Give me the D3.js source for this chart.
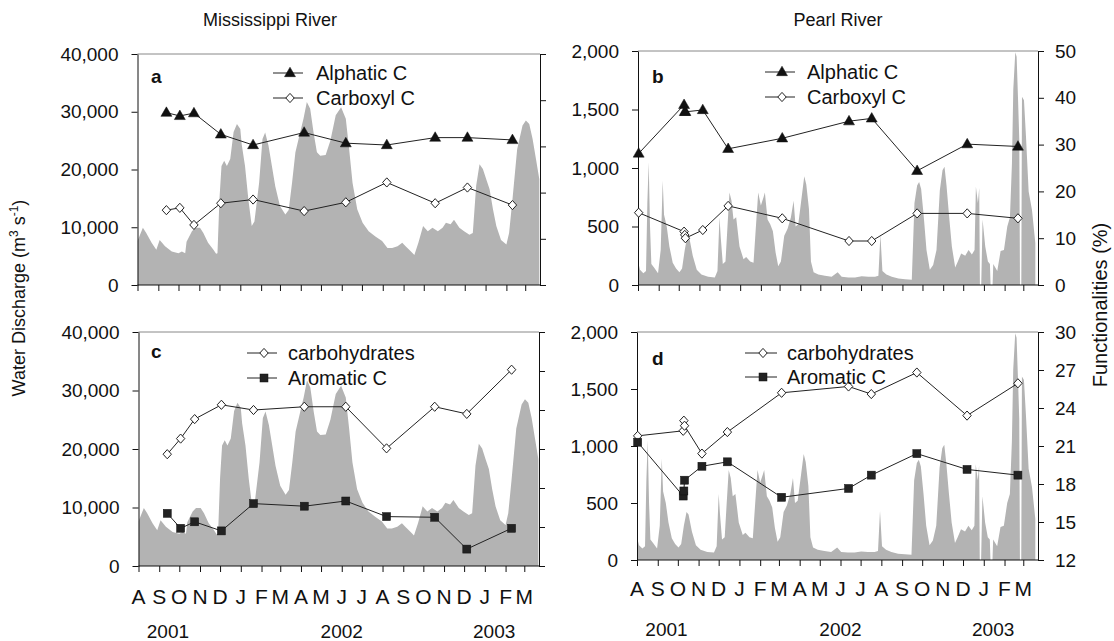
<!DOCTYPE html>
<html><head><meta charset="utf-8">
<script src="https://cdn.jsdelivr.net/npm/d3@7"></script>
<style>
body{margin:0;background:#fff;}
svg text{font-family:Arial,"Liberation Sans",sans-serif;}
</style></head><body>
<svg id="chart" width="1114" height="641"></svg>
<script>
// ---------------- DATA ----------------
const startDate = "2001-08-01";
const endDate = "2003-03-23";
const monthLetters = ["J","F","M","A","M","J","J","A","S","O","N","D"];
const yearLabels = ["2001","2002","2003"];
const yearLabelDates = ["2001-09-14","2002-06-01","2003-01-15"];
const missTicks = [0,10000,20000,30000,40000];
const pearlTicks = [0,500,1000,1500,2000];
const topRightTicks = [0,10,20,30,40,50];
const bottomRightTicks = [12,15,18,21,24,27,30];

// Mississippi River daily discharge (days after startDate, m3/s)
const missDay = [0,8,13,21,28,33,41,51,61,66,71,73,81,86,93,98,105,113,117,119,122,125,129,133,138,143,148,153,155,160,165,170,174,181,186,190,195,200,205,212,220,225,230,235,242,247,252,257,262,267,272,280,287,295,303,310,315,320,327,335,344,354,364,372,379,387,394,399,407,412,418,425,432,439,447,454,459,466,471,479,486,494,499,504,509,514,519,524,529,534,541,549,553,558,565,573,578,583,588,593,598];
const missQ = [7600,9900,9000,7300,6100,7800,6700,5800,5500,5800,5500,7500,9300,9900,9900,9000,7300,6100,5400,5500,15000,20600,21500,20600,21800,26500,27900,27000,24400,20600,14800,10200,11000,17700,25300,26400,24100,20600,17100,13700,12200,13000,17700,23000,26400,28800,31700,30500,26400,23000,22400,22500,25000,29400,30800,28800,23500,17700,13100,10800,9300,8400,7600,6400,6400,6700,7300,6700,5800,5200,7300,10200,9300,9900,9300,9900,10800,10500,11300,9900,9300,8700,9000,17200,20900,20100,18300,16600,13100,10200,7800,7000,9000,14800,23500,27600,28500,27900,25300,21800,18300];

// Pearl River daily discharge (days after startDate, m3/s)
const pearlDay = [0,3,8,12,14,16,18,20,24,30,34,37,39,43,47,52,57,62,66,70,74,77,82,88,95,105,115,119,122,124,127,131,134,137,140,143,147,152,158,162,168,173,176,180,184,188,190,194,198,202,206,210,214,219,224,229,233,236,240,244,249,252,256,259,263,270,280,290,299,305,315,325,335,345,355,360,363,366,372,380,390,400,410,414,418,421,424,428,432,437,442,447,452,456,459,462,466,470,475,479,484,490,495,500,504,506,509,511,512,514,516,520,524,527,528,531,532,538,543,548,553,557,560,562,565,567,569,571,572,574,575,578,581,585,590,595];
const pearlQ = [200,130,100,120,700,1050,500,180,150,100,300,890,600,500,330,190,140,110,140,300,420,400,250,130,90,70,65,120,580,400,180,200,500,790,720,560,580,330,220,240,200,190,450,790,680,750,790,560,520,460,280,160,200,420,480,580,720,500,520,700,930,860,650,200,110,90,80,70,110,70,65,65,75,70,70,80,430,120,90,70,55,50,45,700,850,880,820,580,300,130,170,300,810,980,1010,850,580,330,150,200,270,250,300,260,300,840,700,830,0,0,560,330,200,180,0,0,180,120,290,300,500,580,1040,1670,1990,1950,1610,1240,0,0,1610,1580,1270,800,640,360];

// Sampling dates and functionalities (%)
const missSampleDates = ["2001-09-13","2001-10-03","2001-10-24","2001-12-03","2002-01-20","2002-04-06","2002-06-07","2002-08-07","2002-10-18","2002-12-05","2003-02-10"];
const missAlphatic = [37.3,36.6,37.2,32.6,30.3,33.0,30.7,30.3,31.9,31.9,31.4];
const missCarboxyl = [16.2,16.7,13.0,17.7,18.5,16.0,17.9,22.2,17.7,21.1,17.3];
const missCarbohydrates = [20.6,21.8,23.3,24.4,24.0,24.25,24.25,21.05,24.25,23.7,27.1];
const missAromatic = [16.05,14.9,15.4,14.7,16.8,16.6,17.0,15.8,15.75,13.3,14.9];

const pearlSampleDates = ["2001-08-02","2001-10-09","2001-10-10","2001-10-11","2001-11-06","2001-12-14","2002-03-05","2002-06-13","2002-07-17","2002-09-23","2002-12-07","2003-02-21"];
const pearlAlphatic = [28.1,38.5,37.0,37.0,37.4,29.1,31.35,35.0,35.6,24.4,30.1,29.6];
const pearlCarboxyl = [15.45,11.4,10.7,10.0,11.75,16.9,14.25,9.4,9.4,15.3,15.3,14.25];
const pearlCarbohydrates = [21.8,22.2,23.0,22.6,20.4,22.1,25.2,25.7,25.1,26.8,23.4,25.95];
const pearlAromatic = [21.3,17.05,17.45,18.3,19.4,19.75,16.95,17.65,18.7,20.4,19.15,18.7];

// ---------------- DRAW ----------------
const parse = d3.utcParse("%Y-%m-%d");
const t0 = parse(startDate), t1 = parse(endDate);
const dayDate = d => d3.utcDay.offset(t0, d);
const FONT = "Arial, 'Liberation Sans', sans-serif";
const svg = d3.select("#chart");
const GRAY = "#b3b3b3";

const panels = [
  {letter:"a", x0:137.5, x1:540, y0:54, y1:285, qDay:missDay, qVal:missQ, qTicks:missTicks,
   rTicks:topRightTicks, rLabels:false, dates:missSampleDates,
   series:[{name:"Alphatic C", vals:missAlphatic, sym:"tri"},{name:"Carboxyl C", vals:missCarboxyl, sym:"dia"}],
   legend:{x1:273,x2:303,tx:316,ys:[73,98]}, letterPos:[151,83], months:null},
  {letter:"b", x0:638, x1:1038, y0:51, y1:285, qDay:pearlDay, qVal:pearlQ, qTicks:pearlTicks,
   rTicks:topRightTicks, rLabels:true, dates:pearlSampleDates,
   series:[{name:"Alphatic C", vals:pearlAlphatic, sym:"tri"},{name:"Carboxyl C", vals:pearlCarboxyl, sym:"dia"}],
   legend:{x1:765,x2:795,tx:807,ys:[72,97]}, letterPos:[652,83], months:null},
  {letter:"c", x0:138.5, x1:539, y0:332, y1:566, qDay:missDay, qVal:missQ, qTicks:missTicks,
   rTicks:bottomRightTicks, rLabels:false, dates:missSampleDates,
   series:[{name:"carbohydrates", vals:missCarbohydrates, sym:"dia"},{name:"Aromatic C", vals:missAromatic, sym:"sq"}],
   legend:{x1:247,x2:277,tx:288,ys:[353,378]}, letterPos:[151,358], months:{y:604, yearY:638}},
  {letter:"d", x0:637, x1:1038, y0:332, y1:560, qDay:pearlDay, qVal:pearlQ, qTicks:pearlTicks,
   rTicks:bottomRightTicks, rLabels:true, dates:pearlSampleDates,
   series:[{name:"carbohydrates", vals:pearlCarbohydrates, sym:"dia"},{name:"Aromatic C", vals:pearlAromatic, sym:"sq"}],
   legend:{x1:745,x2:777,tx:787,ys:[353,377]}, letterPos:[652,365], months:{y:596, yearY:636}}
];

function drawMarker(g, sym, x, y) {
  if (sym === "tri") {
    g.append("path").attr("d", d3.symbol(d3.symbolTriangle, 52)()).attr("transform", `translate(${x},${y+0.5})`)
      .attr("fill", "#111").attr("stroke", "#111").attr("stroke-width", 0.5);
  } else if (sym === "dia") {
    const w = 4.2, h = 4.6;
    g.append("path").attr("d", `M${x},${y-h}L${x+w},${y}L${x},${y+h}L${x-w},${y}Z`)
      .attr("fill", "#fff").attr("stroke", "#222").attr("stroke-width", 1);
  } else {
    g.append("rect").attr("x", x-4).attr("y", y-4).attr("width", 8).attr("height", 8)
      .attr("fill", "#222").attr("stroke", "#111").attr("stroke-width", 0.5);
  }
}

panels.forEach((p, i) => {
  const g = svg.append("g");
  const x = d3.scaleUtc().domain([t0, t1]).range([p.x0, p.x1]);
  const yL = d3.scaleLinear().domain([p.qTicks[0], p.qTicks[p.qTicks.length-1]]).range([p.y1, p.y0]);
  const yR = d3.scaleLinear().domain([p.rTicks[0], p.rTicks[p.rTicks.length-1]]).range([p.y1, p.y0]);

  const clipId = "clip" + i;
  svg.append("clipPath").attr("id", clipId).append("rect")
    .attr("x", p.x0).attr("y", p.y0).attr("width", p.x1 - p.x0).attr("height", p.y1 - p.y0);
  const pts = p.qDay.map((d, k) => ({t: dayDate(d), v: p.qVal[k]}));
  g.append("path").datum(pts).attr("clip-path", `url(#${clipId})`)
    .attr("fill", GRAY)
    .attr("d", d3.area().x(d => x(d.t)).y0(yL(0)).y1(d => yL(d.v)));

  g.append("line").attr("x1", p.x0).attr("x2", p.x1).attr("y1", p.y0).attr("y2", p.y0)
    .attr("stroke", "#888").attr("stroke-width", 1);

  const la = g.append("g").attr("transform", `translate(${p.x0},0)`)
    .call(d3.axisLeft(yL).tickValues(p.qTicks).tickSize(6).tickPadding(13).tickFormat(d3.format(",")).tickSizeOuter(0));
  la.selectAll("text").attr("font-size", 19).attr("font-family", FONT).attr("fill", "#111");
  la.selectAll("line,path").attr("stroke", "#111");

  const ra = g.append("g").attr("transform", `translate(${p.x1},0)`)
    .call(d3.axisRight(yR).tickValues(p.rTicks).tickSize(6).tickPadding(11).tickSizeOuter(0)
      .tickFormat(p.rLabels ? d3.format("d") : () => ""));
  ra.selectAll("text").attr("font-size", 19).attr("font-family", FONT).attr("fill", "#111");
  ra.selectAll("line,path").attr("stroke", "#111");

  const ba = g.append("g").attr("transform", `translate(0,${p.y1})`)
    .call(d3.axisBottom(x).ticks(d3.utcMonth.every(1)).tickSize(6).tickSizeOuter(0).tickFormat(() => ""));
  ba.selectAll("line,path").attr("stroke", "#111");
  ba.select(".domain").attr("d", `M${p.x0},0H${p.x1}`);

  if (p.months) {
    const months = d3.utcMonth.range(d3.utcMonth.ceil(t0), t1);
    g.selectAll(".ml").data(months).enter().append("text")
      .attr("x", d => x(d)).attr("y", p.months.y).attr("text-anchor", "middle")
      .attr("font-size", 21).attr("font-family", FONT).attr("fill", "#111")
      .text(d => monthLetters[d.getUTCMonth()]);
    g.selectAll(".yl").data(yearLabels).enter().append("text")
      .attr("x", (d, k) => x(parse(yearLabelDates[k]))).attr("y", p.months.yearY).attr("text-anchor", "middle")
      .attr("font-size", 19).attr("font-family", FONT).attr("fill", "#111")
      .text(d => d);
  }

  const dts = p.dates.map(parse);
  p.series.forEach(s => {
    const pp = s.vals.map((v, k) => [x(dts[k]), yR(v)]);
    g.append("path").attr("d", d3.line()(pp)).attr("fill", "none").attr("stroke", "#222").attr("stroke-width", 1);
    pp.forEach(q => drawMarker(g, s.sym, q[0], q[1]));
  });

  p.series.forEach((s, k) => {
    const yy = p.legend.ys[k];
    g.append("line").attr("x1", p.legend.x1).attr("x2", p.legend.x2).attr("y1", yy).attr("y2", yy)
      .attr("stroke", "#222").attr("stroke-width", 1);
    drawMarker(g, s.sym, (p.legend.x1 + p.legend.x2) / 2 + 2, yy);
    g.append("text").attr("x", p.legend.tx).attr("y", yy + 7).attr("font-size", 20).attr("font-family", FONT)
      .attr("fill", "#111").text(s.name);
  });

  g.append("text").attr("x", p.letterPos[0]).attr("y", p.letterPos[1]).attr("font-size", 19)
    .attr("font-weight", "bold").attr("font-family", FONT).attr("fill", "#111").text(p.letter);
});

svg.append("text").attr("x", 270).attr("y", 26).attr("text-anchor", "middle").attr("font-size", 18)
  .attr("font-family", FONT).attr("fill", "#111").text("Mississippi River");
svg.append("text").attr("x", 838).attr("y", 26).attr("text-anchor", "middle").attr("font-size", 18)
  .attr("font-family", FONT).attr("fill", "#111").text("Pearl River");

const lt = svg.append("text").attr("transform", "translate(25,298) rotate(-90)").attr("text-anchor", "middle")
  .attr("font-size", 18).attr("font-family", FONT).attr("fill", "#111");
lt.append("tspan").text("Water Discharge (m");
lt.append("tspan").attr("font-size", 12).attr("dy", -7).text("3");
lt.append("tspan").attr("dy", 7).text(" s");
lt.append("tspan").attr("font-size", 12).attr("dy", -7).text("-1");
lt.append("tspan").attr("dy", 7).text(")");

svg.append("text").attr("transform", "translate(1107,305) rotate(-90)").attr("text-anchor", "middle")
  .attr("font-size", 20).attr("font-family", FONT).attr("fill", "#111").text("Functionalities (%)");
</script>
</body></html>
